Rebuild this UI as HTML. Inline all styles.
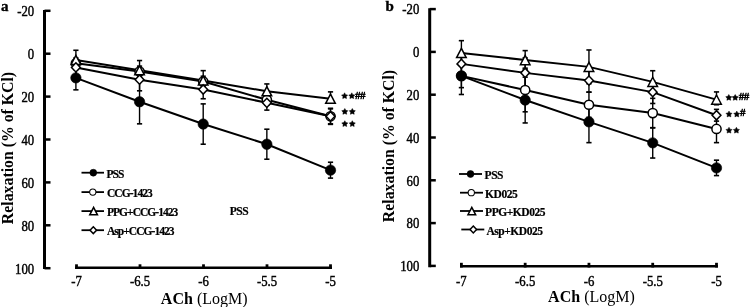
<!DOCTYPE html>
<html><head><meta charset="utf-8"><style>
html,body{margin:0;padding:0;background:#fff;}
body{width:750px;height:307px;overflow:hidden;}
svg{display:block;will-change:transform;}
text{font-family:"Liberation Serif",serif;fill:#000;}
.tl{font-size:15px;stroke:#000;stroke-width:0.45px;}
.lg{font-size:11.5px;font-weight:bold;letter-spacing:-0.5px;stroke:#000;stroke-width:0.2px;}
.hs{font-size:11px;stroke:#000;stroke-width:0.55px;letter-spacing:-0.6px;}
.pl{font-size:15px;font-weight:bold;stroke:#000;stroke-width:0.4px;}
.at{font-size:16px;}
.yl{font-size:15.8px;font-weight:bold;}
</style></head><body>
<svg width="750" height="307" viewBox="0 0 750 307">
<rect width="750" height="307" fill="#fff"/>
<line x1="44.5" y1="10.0" x2="44.5" y2="269.0" stroke="#000" stroke-width="3"/>
<line x1="44.5" y1="10.80" x2="50.5" y2="10.80" stroke="#000" stroke-width="2.5"/>
<text transform="translate(34.20,16.10) scale(0.85,1)" class="tl" text-anchor="end">-20</text>
<line x1="44.5" y1="53.70" x2="50.5" y2="53.70" stroke="#000" stroke-width="2.5"/>
<text transform="translate(34.20,59.00) scale(0.85,1)" class="tl" text-anchor="end">0</text>
<line x1="44.5" y1="96.60" x2="50.5" y2="96.60" stroke="#000" stroke-width="2.5"/>
<text transform="translate(34.20,101.90) scale(0.85,1)" class="tl" text-anchor="end">20</text>
<line x1="44.5" y1="139.50" x2="50.5" y2="139.50" stroke="#000" stroke-width="2.5"/>
<text transform="translate(34.20,144.80) scale(0.85,1)" class="tl" text-anchor="end">40</text>
<line x1="44.5" y1="182.40" x2="50.5" y2="182.40" stroke="#000" stroke-width="2.5"/>
<text transform="translate(34.20,187.70) scale(0.85,1)" class="tl" text-anchor="end">60</text>
<line x1="44.5" y1="225.30" x2="50.5" y2="225.30" stroke="#000" stroke-width="2.5"/>
<text transform="translate(34.20,230.60) scale(0.85,1)" class="tl" text-anchor="end">80</text>
<line x1="44.5" y1="268.20" x2="50.5" y2="268.20" stroke="#000" stroke-width="2.5"/>
<text transform="translate(34.20,273.50) scale(0.85,1)" class="tl" text-anchor="end">100</text>
<line x1="75.0" y1="267.7" x2="332.0" y2="267.7" stroke="#000" stroke-width="2.6"/>
<line x1="76.50" y1="264.3" x2="76.50" y2="269.0" stroke="#000" stroke-width="2.8"/>
<text transform="translate(76.50,286.00) scale(0.85,1)" class="tl" text-anchor="middle">-7</text>
<line x1="140.00" y1="264.3" x2="140.00" y2="269.0" stroke="#000" stroke-width="2.8"/>
<text transform="translate(140.00,286.00) scale(0.85,1)" class="tl" text-anchor="middle">-6.5</text>
<line x1="203.50" y1="264.3" x2="203.50" y2="269.0" stroke="#000" stroke-width="2.8"/>
<text transform="translate(203.50,286.00) scale(0.85,1)" class="tl" text-anchor="middle">-6</text>
<line x1="267.00" y1="264.3" x2="267.00" y2="269.0" stroke="#000" stroke-width="2.8"/>
<text transform="translate(267.00,286.00) scale(0.85,1)" class="tl" text-anchor="middle">-5.5</text>
<line x1="330.50" y1="264.3" x2="330.50" y2="269.0" stroke="#000" stroke-width="2.8"/>
<text transform="translate(330.50,286.00) scale(0.85,1)" class="tl" text-anchor="middle">-5</text>
<polyline points="75.90,77.83 139.55,101.75 203.20,124.06 266.85,144.22 330.50,170.17" fill="none" stroke="#000" stroke-width="2"/>
<polyline points="75.90,63.35 139.55,71.50 203.20,81.59 266.85,99.82 330.50,116.33" fill="none" stroke="#000" stroke-width="2"/>
<polyline points="75.90,59.92 139.55,70.22 203.20,80.51 266.85,91.24 330.50,98.75" fill="none" stroke="#000" stroke-width="2"/>
<polyline points="75.90,67.43 139.55,79.65 203.20,89.52 266.85,102.82 330.50,116.33" fill="none" stroke="#000" stroke-width="2"/>
<line x1="75.90" y1="65.82" x2="75.90" y2="89.84" stroke="#000" stroke-width="1.4"/>
<line x1="73.30" y1="65.82" x2="78.50" y2="65.82" stroke="#000" stroke-width="1.6"/>
<line x1="73.30" y1="89.84" x2="78.50" y2="89.84" stroke="#000" stroke-width="1.6"/>
<line x1="139.55" y1="79.65" x2="139.55" y2="123.84" stroke="#000" stroke-width="1.4"/>
<line x1="136.95" y1="79.65" x2="142.15" y2="79.65" stroke="#000" stroke-width="1.6"/>
<line x1="136.95" y1="123.84" x2="142.15" y2="123.84" stroke="#000" stroke-width="1.6"/>
<line x1="203.20" y1="103.89" x2="203.20" y2="144.22" stroke="#000" stroke-width="1.4"/>
<line x1="200.60" y1="103.89" x2="205.80" y2="103.89" stroke="#000" stroke-width="1.6"/>
<line x1="200.60" y1="144.22" x2="205.80" y2="144.22" stroke="#000" stroke-width="1.6"/>
<line x1="266.85" y1="129.20" x2="266.85" y2="159.23" stroke="#000" stroke-width="1.4"/>
<line x1="264.25" y1="129.20" x2="269.45" y2="129.20" stroke="#000" stroke-width="1.6"/>
<line x1="264.25" y1="159.23" x2="269.45" y2="159.23" stroke="#000" stroke-width="1.6"/>
<line x1="330.50" y1="162.24" x2="330.50" y2="178.11" stroke="#000" stroke-width="1.4"/>
<line x1="327.90" y1="162.24" x2="333.10" y2="162.24" stroke="#000" stroke-width="1.6"/>
<line x1="327.90" y1="178.11" x2="333.10" y2="178.11" stroke="#000" stroke-width="1.6"/>
<line x1="75.90" y1="57.99" x2="75.90" y2="68.72" stroke="#000" stroke-width="1.4"/>
<line x1="73.30" y1="57.99" x2="78.50" y2="57.99" stroke="#000" stroke-width="1.6"/>
<line x1="73.30" y1="68.72" x2="78.50" y2="68.72" stroke="#000" stroke-width="1.6"/>
<line x1="139.55" y1="66.14" x2="139.55" y2="76.87" stroke="#000" stroke-width="1.4"/>
<line x1="136.95" y1="66.14" x2="142.15" y2="66.14" stroke="#000" stroke-width="1.6"/>
<line x1="136.95" y1="76.87" x2="142.15" y2="76.87" stroke="#000" stroke-width="1.6"/>
<line x1="203.20" y1="76.22" x2="203.20" y2="86.95" stroke="#000" stroke-width="1.4"/>
<line x1="200.60" y1="76.22" x2="205.80" y2="76.22" stroke="#000" stroke-width="1.6"/>
<line x1="200.60" y1="86.95" x2="205.80" y2="86.95" stroke="#000" stroke-width="1.6"/>
<line x1="266.85" y1="94.46" x2="266.85" y2="105.18" stroke="#000" stroke-width="1.4"/>
<line x1="264.25" y1="94.46" x2="269.45" y2="94.46" stroke="#000" stroke-width="1.6"/>
<line x1="264.25" y1="105.18" x2="269.45" y2="105.18" stroke="#000" stroke-width="1.6"/>
<line x1="330.50" y1="108.83" x2="330.50" y2="123.84" stroke="#000" stroke-width="1.4"/>
<line x1="327.90" y1="108.83" x2="333.10" y2="108.83" stroke="#000" stroke-width="1.6"/>
<line x1="327.90" y1="123.84" x2="333.10" y2="123.84" stroke="#000" stroke-width="1.6"/>
<line x1="75.90" y1="50.27" x2="75.90" y2="69.57" stroke="#000" stroke-width="1.4"/>
<line x1="73.30" y1="50.27" x2="78.50" y2="50.27" stroke="#000" stroke-width="1.6"/>
<line x1="73.30" y1="69.57" x2="78.50" y2="69.57" stroke="#000" stroke-width="1.6"/>
<line x1="139.55" y1="60.56" x2="139.55" y2="79.87" stroke="#000" stroke-width="1.4"/>
<line x1="136.95" y1="60.56" x2="142.15" y2="60.56" stroke="#000" stroke-width="1.6"/>
<line x1="136.95" y1="79.87" x2="142.15" y2="79.87" stroke="#000" stroke-width="1.6"/>
<line x1="203.20" y1="70.65" x2="203.20" y2="90.38" stroke="#000" stroke-width="1.4"/>
<line x1="200.60" y1="70.65" x2="205.80" y2="70.65" stroke="#000" stroke-width="1.6"/>
<line x1="200.60" y1="90.38" x2="205.80" y2="90.38" stroke="#000" stroke-width="1.6"/>
<line x1="266.85" y1="83.94" x2="266.85" y2="98.53" stroke="#000" stroke-width="1.4"/>
<line x1="264.25" y1="83.94" x2="269.45" y2="83.94" stroke="#000" stroke-width="1.6"/>
<line x1="264.25" y1="98.53" x2="269.45" y2="98.53" stroke="#000" stroke-width="1.6"/>
<line x1="330.50" y1="91.88" x2="330.50" y2="101.96" stroke="#000" stroke-width="1.4"/>
<line x1="327.90" y1="91.88" x2="333.10" y2="91.88" stroke="#000" stroke-width="1.6"/>
<line x1="327.90" y1="101.96" x2="333.10" y2="101.96" stroke="#000" stroke-width="1.6"/>
<line x1="75.90" y1="59.92" x2="75.90" y2="74.94" stroke="#000" stroke-width="1.4"/>
<line x1="73.30" y1="59.92" x2="78.50" y2="59.92" stroke="#000" stroke-width="1.6"/>
<line x1="73.30" y1="74.94" x2="78.50" y2="74.94" stroke="#000" stroke-width="1.6"/>
<line x1="139.55" y1="68.50" x2="139.55" y2="90.81" stroke="#000" stroke-width="1.4"/>
<line x1="136.95" y1="68.50" x2="142.15" y2="68.50" stroke="#000" stroke-width="1.6"/>
<line x1="136.95" y1="90.81" x2="142.15" y2="90.81" stroke="#000" stroke-width="1.6"/>
<line x1="203.20" y1="80.30" x2="203.20" y2="98.75" stroke="#000" stroke-width="1.4"/>
<line x1="200.60" y1="80.30" x2="205.80" y2="80.30" stroke="#000" stroke-width="1.6"/>
<line x1="200.60" y1="98.75" x2="205.80" y2="98.75" stroke="#000" stroke-width="1.6"/>
<line x1="266.85" y1="95.53" x2="266.85" y2="110.11" stroke="#000" stroke-width="1.4"/>
<line x1="264.25" y1="95.53" x2="269.45" y2="95.53" stroke="#000" stroke-width="1.6"/>
<line x1="264.25" y1="110.11" x2="269.45" y2="110.11" stroke="#000" stroke-width="1.6"/>
<line x1="330.50" y1="108.29" x2="330.50" y2="124.38" stroke="#000" stroke-width="1.4"/>
<line x1="327.90" y1="108.29" x2="333.10" y2="108.29" stroke="#000" stroke-width="1.6"/>
<line x1="327.90" y1="124.38" x2="333.10" y2="124.38" stroke="#000" stroke-width="1.6"/>
<circle cx="75.90" cy="63.35" r="4.60" fill="#fff" stroke="#000" stroke-width="1.50"/>
<circle cx="139.55" cy="71.50" r="4.60" fill="#fff" stroke="#000" stroke-width="1.50"/>
<circle cx="203.20" cy="81.59" r="4.60" fill="#fff" stroke="#000" stroke-width="1.50"/>
<circle cx="266.85" cy="99.82" r="4.60" fill="#fff" stroke="#000" stroke-width="1.50"/>
<circle cx="330.50" cy="116.33" r="4.60" fill="#fff" stroke="#000" stroke-width="1.50"/>
<circle cx="75.90" cy="77.83" r="5.20" fill="#000" stroke="#000" stroke-width="0.6"/>
<circle cx="139.55" cy="101.75" r="5.20" fill="#000" stroke="#000" stroke-width="0.6"/>
<circle cx="203.20" cy="124.06" r="5.20" fill="#000" stroke="#000" stroke-width="0.6"/>
<circle cx="266.85" cy="144.22" r="5.20" fill="#000" stroke="#000" stroke-width="0.6"/>
<circle cx="330.50" cy="170.17" r="5.20" fill="#000" stroke="#000" stroke-width="0.6"/>
<polygon points="75.90,55.32 80.70,64.52 71.10,64.52" fill="#fff" stroke="#000" stroke-width="1.5" stroke-linejoin="miter"/>
<polygon points="139.55,65.62 144.35,74.82 134.75,74.82" fill="#fff" stroke="#000" stroke-width="1.5" stroke-linejoin="miter"/>
<polygon points="203.20,75.91 208.00,85.11 198.40,85.11" fill="#fff" stroke="#000" stroke-width="1.5" stroke-linejoin="miter"/>
<polygon points="266.85,86.64 271.65,95.84 262.05,95.84" fill="#fff" stroke="#000" stroke-width="1.5" stroke-linejoin="miter"/>
<polygon points="330.50,94.15 335.30,103.34 325.70,103.34" fill="#fff" stroke="#000" stroke-width="1.5" stroke-linejoin="miter"/>
<polygon points="75.90,62.83 80.30,67.43 75.90,72.03 71.50,67.43" fill="#fff" stroke="#000" stroke-width="1.5"/>
<polygon points="139.55,75.05 143.95,79.65 139.55,84.25 135.15,79.65" fill="#fff" stroke="#000" stroke-width="1.5"/>
<polygon points="203.20,84.92 207.60,89.52 203.20,94.12 198.80,89.52" fill="#fff" stroke="#000" stroke-width="1.5"/>
<polygon points="266.85,98.22 271.25,102.82 266.85,107.42 262.45,102.82" fill="#fff" stroke="#000" stroke-width="1.5"/>
<polygon points="330.50,111.73 334.90,116.33 330.50,120.93 326.10,116.33" fill="#fff" stroke="#000" stroke-width="1.5"/>
<line x1="81.5" y1="172.7" x2="104" y2="172.7" stroke="#000" stroke-width="1.8"/>
<circle cx="93.30" cy="172.70" r="3.43" fill="#000" stroke="#000" stroke-width="0.6"/>
<text x="106.5" y="177.70" class="lg" style="letter-spacing:-0.95px">PSS</text>
<line x1="81.5" y1="192.1" x2="104" y2="192.1" stroke="#000" stroke-width="1.8"/>
<circle cx="92.80" cy="192.10" r="3.13" fill="#fff" stroke="#000" stroke-width="1.02"/>
<text x="107.0" y="197.10" class="lg" style="letter-spacing:-0.95px">CCG-1423</text>
<line x1="81.5" y1="211.1" x2="104" y2="211.1" stroke="#000" stroke-width="1.8"/>
<polygon points="93.60,207.42 97.44,214.78 89.76,214.78" fill="#fff" stroke="#000" stroke-width="1.5" stroke-linejoin="miter"/>
<text x="106.9" y="216.10" class="lg" style="letter-spacing:-0.95px">PPG+CCG-1423</text>
<line x1="81.5" y1="230.2" x2="104" y2="230.2" stroke="#000" stroke-width="1.8"/>
<polygon points="93.30,226.80 96.56,230.20 93.30,233.60 90.04,230.20" fill="#fff" stroke="#000" stroke-width="1.5"/>
<text x="106.9" y="235.20" class="lg" style="letter-spacing:-0.95px">Asp+CCG-1423</text>
<polygon points="344.60,92.81 345.60,94.63 347.64,95.02 346.22,96.53 346.48,98.59 344.60,97.71 342.72,98.59 342.98,96.53 341.56,95.02 343.60,94.63" fill="#000" stroke="#000" stroke-width="0.5" stroke-linejoin="round"/>
<polygon points="351.80,92.81 352.80,94.63 354.84,95.02 353.42,96.53 353.68,98.59 351.80,97.71 349.92,98.59 350.18,96.53 348.76,95.02 350.80,94.63" fill="#000" stroke="#000" stroke-width="0.5" stroke-linejoin="round"/>
<text x="355.0" y="98.5" class="hs">##</text>
<polygon points="344.80,108.51 345.80,110.33 347.84,110.72 346.42,112.23 346.68,114.29 344.80,113.41 342.92,114.29 343.18,112.23 341.76,110.72 343.80,110.33" fill="#000" stroke="#000" stroke-width="0.5" stroke-linejoin="round"/>
<polygon points="352.30,108.51 353.30,110.33 355.34,110.72 353.92,112.23 354.18,114.29 352.30,113.41 350.42,114.29 350.68,112.23 349.26,110.72 351.30,110.33" fill="#000" stroke="#000" stroke-width="0.5" stroke-linejoin="round"/>
<polygon points="344.80,120.71 345.80,122.53 347.84,122.92 346.42,124.43 346.68,126.49 344.80,125.61 342.92,126.49 343.18,124.43 341.76,122.92 343.80,122.53" fill="#000" stroke="#000" stroke-width="0.5" stroke-linejoin="round"/>
<polygon points="352.30,120.71 353.30,122.53 355.34,122.92 353.92,124.43 354.18,126.49 352.30,125.61 350.42,126.49 350.68,124.43 349.26,122.92 351.30,122.53" fill="#000" stroke="#000" stroke-width="0.5" stroke-linejoin="round"/>
<text x="1" y="11" class="pl">a</text>
<text x="204.20" y="303.90" class="at" text-anchor="middle"><tspan font-weight="bold">ACh</tspan> (LogM)</text>
<text transform="translate(12.50,148) rotate(-90)" class="at yl" text-anchor="middle">Relaxation (% of KCl)</text>
<text x="229.8" y="215" class="lg">PSS</text>
<line x1="429.7" y1="8.2" x2="429.7" y2="267.3" stroke="#000" stroke-width="3"/>
<line x1="429.7" y1="9.10" x2="435.8" y2="9.10" stroke="#000" stroke-width="2.5"/>
<text transform="translate(419.30,14.40) scale(0.85,1)" class="tl" text-anchor="end">-20</text>
<line x1="429.7" y1="51.90" x2="435.8" y2="51.90" stroke="#000" stroke-width="2.5"/>
<text transform="translate(419.30,57.20) scale(0.85,1)" class="tl" text-anchor="end">0</text>
<line x1="429.7" y1="94.70" x2="435.8" y2="94.70" stroke="#000" stroke-width="2.5"/>
<text transform="translate(419.30,100.00) scale(0.85,1)" class="tl" text-anchor="end">20</text>
<line x1="429.7" y1="137.50" x2="435.8" y2="137.50" stroke="#000" stroke-width="2.5"/>
<text transform="translate(419.30,142.80) scale(0.85,1)" class="tl" text-anchor="end">40</text>
<line x1="429.7" y1="180.30" x2="435.8" y2="180.30" stroke="#000" stroke-width="2.5"/>
<text transform="translate(419.30,185.60) scale(0.85,1)" class="tl" text-anchor="end">60</text>
<line x1="429.7" y1="223.10" x2="435.8" y2="223.10" stroke="#000" stroke-width="2.5"/>
<text transform="translate(419.30,228.40) scale(0.85,1)" class="tl" text-anchor="end">80</text>
<line x1="429.7" y1="265.90" x2="435.8" y2="265.90" stroke="#000" stroke-width="2.5"/>
<text transform="translate(419.30,271.20) scale(0.85,1)" class="tl" text-anchor="end">100</text>
<line x1="460.0" y1="266.2" x2="718.0" y2="266.2" stroke="#000" stroke-width="2.6"/>
<line x1="461.40" y1="262.8" x2="461.40" y2="267.5" stroke="#000" stroke-width="2.8"/>
<text transform="translate(461.40,285.80) scale(0.85,1)" class="tl" text-anchor="middle">-7</text>
<line x1="525.17" y1="262.8" x2="525.17" y2="267.5" stroke="#000" stroke-width="2.8"/>
<text transform="translate(525.17,285.80) scale(0.85,1)" class="tl" text-anchor="middle">-6.5</text>
<line x1="588.95" y1="262.8" x2="588.95" y2="267.5" stroke="#000" stroke-width="2.8"/>
<text transform="translate(588.95,285.80) scale(0.85,1)" class="tl" text-anchor="middle">-6</text>
<line x1="652.72" y1="262.8" x2="652.72" y2="267.5" stroke="#000" stroke-width="2.8"/>
<text transform="translate(652.72,285.80) scale(0.85,1)" class="tl" text-anchor="middle">-5.5</text>
<line x1="716.50" y1="262.8" x2="716.50" y2="267.5" stroke="#000" stroke-width="2.8"/>
<text transform="translate(716.50,285.80) scale(0.85,1)" class="tl" text-anchor="middle">-5</text>
<polyline points="461.40,75.87 525.17,100.05 588.95,121.88 652.72,142.85 716.50,167.89" fill="none" stroke="#000" stroke-width="2"/>
<polyline points="461.40,75.87 525.17,89.99 588.95,104.76 652.72,113.10 716.50,128.94" fill="none" stroke="#000" stroke-width="2"/>
<polyline points="461.40,52.97 525.17,60.03 588.95,66.88 652.72,81.86 716.50,99.62" fill="none" stroke="#000" stroke-width="2"/>
<polyline points="461.40,63.88 525.17,72.87 588.95,80.58 652.72,92.13 716.50,115.24" fill="none" stroke="#000" stroke-width="2"/>
<line x1="461.40" y1="57.25" x2="461.40" y2="94.49" stroke="#000" stroke-width="1.4"/>
<line x1="458.80" y1="57.25" x2="464.00" y2="57.25" stroke="#000" stroke-width="1.6"/>
<line x1="458.80" y1="94.49" x2="464.00" y2="94.49" stroke="#000" stroke-width="1.6"/>
<line x1="525.17" y1="77.15" x2="525.17" y2="122.95" stroke="#000" stroke-width="1.4"/>
<line x1="522.57" y1="77.15" x2="527.77" y2="77.15" stroke="#000" stroke-width="1.6"/>
<line x1="522.57" y1="122.95" x2="527.77" y2="122.95" stroke="#000" stroke-width="1.6"/>
<line x1="588.95" y1="101.12" x2="588.95" y2="142.64" stroke="#000" stroke-width="1.4"/>
<line x1="586.35" y1="101.12" x2="591.55" y2="101.12" stroke="#000" stroke-width="1.6"/>
<line x1="586.35" y1="142.64" x2="591.55" y2="142.64" stroke="#000" stroke-width="1.6"/>
<line x1="652.72" y1="127.66" x2="652.72" y2="158.04" stroke="#000" stroke-width="1.4"/>
<line x1="650.12" y1="127.66" x2="655.32" y2="127.66" stroke="#000" stroke-width="1.6"/>
<line x1="650.12" y1="158.04" x2="655.32" y2="158.04" stroke="#000" stroke-width="1.6"/>
<line x1="716.50" y1="160.18" x2="716.50" y2="175.59" stroke="#000" stroke-width="1.4"/>
<line x1="713.90" y1="160.18" x2="719.10" y2="160.18" stroke="#000" stroke-width="1.6"/>
<line x1="713.90" y1="175.59" x2="719.10" y2="175.59" stroke="#000" stroke-width="1.6"/>
<line x1="461.40" y1="64.10" x2="461.40" y2="87.64" stroke="#000" stroke-width="1.4"/>
<line x1="458.80" y1="64.10" x2="464.00" y2="64.10" stroke="#000" stroke-width="1.6"/>
<line x1="458.80" y1="87.64" x2="464.00" y2="87.64" stroke="#000" stroke-width="1.6"/>
<line x1="525.17" y1="68.16" x2="525.17" y2="111.82" stroke="#000" stroke-width="1.4"/>
<line x1="522.57" y1="68.16" x2="527.77" y2="68.16" stroke="#000" stroke-width="1.6"/>
<line x1="522.57" y1="111.82" x2="527.77" y2="111.82" stroke="#000" stroke-width="1.6"/>
<line x1="588.95" y1="92.13" x2="588.95" y2="117.38" stroke="#000" stroke-width="1.4"/>
<line x1="586.35" y1="92.13" x2="591.55" y2="92.13" stroke="#000" stroke-width="1.6"/>
<line x1="586.35" y1="117.38" x2="591.55" y2="117.38" stroke="#000" stroke-width="1.6"/>
<line x1="652.72" y1="98.34" x2="652.72" y2="127.87" stroke="#000" stroke-width="1.4"/>
<line x1="650.12" y1="98.34" x2="655.32" y2="98.34" stroke="#000" stroke-width="1.6"/>
<line x1="650.12" y1="127.87" x2="655.32" y2="127.87" stroke="#000" stroke-width="1.6"/>
<line x1="716.50" y1="115.24" x2="716.50" y2="142.64" stroke="#000" stroke-width="1.4"/>
<line x1="713.90" y1="115.24" x2="719.10" y2="115.24" stroke="#000" stroke-width="1.6"/>
<line x1="713.90" y1="142.64" x2="719.10" y2="142.64" stroke="#000" stroke-width="1.6"/>
<line x1="461.40" y1="40.66" x2="461.40" y2="65.28" stroke="#000" stroke-width="1.4"/>
<line x1="458.80" y1="40.66" x2="464.00" y2="40.66" stroke="#000" stroke-width="1.6"/>
<line x1="458.80" y1="65.28" x2="464.00" y2="65.28" stroke="#000" stroke-width="1.6"/>
<line x1="525.17" y1="50.62" x2="525.17" y2="69.45" stroke="#000" stroke-width="1.4"/>
<line x1="522.57" y1="50.62" x2="527.77" y2="50.62" stroke="#000" stroke-width="1.6"/>
<line x1="522.57" y1="69.45" x2="527.77" y2="69.45" stroke="#000" stroke-width="1.6"/>
<line x1="588.95" y1="49.97" x2="588.95" y2="83.79" stroke="#000" stroke-width="1.4"/>
<line x1="586.35" y1="49.97" x2="591.55" y2="49.97" stroke="#000" stroke-width="1.6"/>
<line x1="586.35" y1="83.79" x2="591.55" y2="83.79" stroke="#000" stroke-width="1.6"/>
<line x1="652.72" y1="70.73" x2="652.72" y2="92.99" stroke="#000" stroke-width="1.4"/>
<line x1="650.12" y1="70.73" x2="655.32" y2="70.73" stroke="#000" stroke-width="1.6"/>
<line x1="650.12" y1="92.99" x2="655.32" y2="92.99" stroke="#000" stroke-width="1.6"/>
<line x1="716.50" y1="91.92" x2="716.50" y2="104.76" stroke="#000" stroke-width="1.4"/>
<line x1="713.90" y1="91.92" x2="719.10" y2="91.92" stroke="#000" stroke-width="1.6"/>
<line x1="713.90" y1="104.76" x2="719.10" y2="104.76" stroke="#000" stroke-width="1.6"/>
<line x1="461.40" y1="55.32" x2="461.40" y2="72.44" stroke="#000" stroke-width="1.4"/>
<line x1="458.80" y1="55.32" x2="464.00" y2="55.32" stroke="#000" stroke-width="1.6"/>
<line x1="458.80" y1="72.44" x2="464.00" y2="72.44" stroke="#000" stroke-width="1.6"/>
<line x1="525.17" y1="57.89" x2="525.17" y2="87.85" stroke="#000" stroke-width="1.4"/>
<line x1="522.57" y1="57.89" x2="527.77" y2="57.89" stroke="#000" stroke-width="1.6"/>
<line x1="522.57" y1="87.85" x2="527.77" y2="87.85" stroke="#000" stroke-width="1.6"/>
<line x1="588.95" y1="69.02" x2="588.95" y2="92.13" stroke="#000" stroke-width="1.4"/>
<line x1="586.35" y1="69.02" x2="591.55" y2="69.02" stroke="#000" stroke-width="1.6"/>
<line x1="586.35" y1="92.13" x2="591.55" y2="92.13" stroke="#000" stroke-width="1.6"/>
<line x1="652.72" y1="80.79" x2="652.72" y2="103.47" stroke="#000" stroke-width="1.4"/>
<line x1="650.12" y1="80.79" x2="655.32" y2="80.79" stroke="#000" stroke-width="1.6"/>
<line x1="650.12" y1="103.47" x2="655.32" y2="103.47" stroke="#000" stroke-width="1.6"/>
<line x1="716.50" y1="109.36" x2="716.50" y2="121.13" stroke="#000" stroke-width="1.4"/>
<line x1="713.90" y1="109.36" x2="719.10" y2="109.36" stroke="#000" stroke-width="1.6"/>
<line x1="713.90" y1="121.13" x2="719.10" y2="121.13" stroke="#000" stroke-width="1.6"/>
<circle cx="461.40" cy="75.87" r="4.60" fill="#fff" stroke="#000" stroke-width="1.50"/>
<circle cx="525.17" cy="89.99" r="4.60" fill="#fff" stroke="#000" stroke-width="1.50"/>
<circle cx="588.95" cy="104.76" r="4.60" fill="#fff" stroke="#000" stroke-width="1.50"/>
<circle cx="652.72" cy="113.10" r="4.60" fill="#fff" stroke="#000" stroke-width="1.50"/>
<circle cx="716.50" cy="128.94" r="4.60" fill="#fff" stroke="#000" stroke-width="1.50"/>
<circle cx="461.40" cy="75.87" r="5.20" fill="#000" stroke="#000" stroke-width="0.6"/>
<circle cx="525.17" cy="100.05" r="5.20" fill="#000" stroke="#000" stroke-width="0.6"/>
<circle cx="588.95" cy="121.88" r="5.20" fill="#000" stroke="#000" stroke-width="0.6"/>
<circle cx="652.72" cy="142.85" r="5.20" fill="#000" stroke="#000" stroke-width="0.6"/>
<circle cx="716.50" cy="167.89" r="5.20" fill="#000" stroke="#000" stroke-width="0.6"/>
<polygon points="461.40,48.37 466.20,57.57 456.60,57.57" fill="#fff" stroke="#000" stroke-width="1.5" stroke-linejoin="miter"/>
<polygon points="525.17,55.43 529.97,64.63 520.38,64.63" fill="#fff" stroke="#000" stroke-width="1.5" stroke-linejoin="miter"/>
<polygon points="588.95,62.28 593.75,71.48 584.15,71.48" fill="#fff" stroke="#000" stroke-width="1.5" stroke-linejoin="miter"/>
<polygon points="652.72,77.26 657.52,86.46 647.92,86.46" fill="#fff" stroke="#000" stroke-width="1.5" stroke-linejoin="miter"/>
<polygon points="716.50,95.02 721.30,104.22 711.70,104.22" fill="#fff" stroke="#000" stroke-width="1.5" stroke-linejoin="miter"/>
<polygon points="461.40,59.28 465.80,63.88 461.40,68.48 457.00,63.88" fill="#fff" stroke="#000" stroke-width="1.5"/>
<polygon points="525.17,68.27 529.57,72.87 525.17,77.47 520.77,72.87" fill="#fff" stroke="#000" stroke-width="1.5"/>
<polygon points="588.95,75.98 593.35,80.58 588.95,85.18 584.55,80.58" fill="#fff" stroke="#000" stroke-width="1.5"/>
<polygon points="652.72,87.53 657.12,92.13 652.72,96.73 648.32,92.13" fill="#fff" stroke="#000" stroke-width="1.5"/>
<polygon points="716.50,110.64 720.90,115.24 716.50,119.84 712.10,115.24" fill="#fff" stroke="#000" stroke-width="1.5"/>
<line x1="459" y1="174.0" x2="482" y2="174.0" stroke="#000" stroke-width="1.8"/>
<circle cx="470.50" cy="174.00" r="3.43" fill="#000" stroke="#000" stroke-width="0.6"/>
<text x="484.6" y="179.00" class="lg" style="letter-spacing:-0.45px">PSS</text>
<line x1="460" y1="192.7" x2="483" y2="192.7" stroke="#000" stroke-width="1.8"/>
<circle cx="471.30" cy="192.70" r="3.13" fill="#fff" stroke="#000" stroke-width="1.02"/>
<text x="485.1" y="197.70" class="lg" style="letter-spacing:-0.45px">KD025</text>
<line x1="460" y1="211.0" x2="483" y2="211.0" stroke="#000" stroke-width="1.8"/>
<polygon points="471.80,207.32 475.64,214.68 467.96,214.68" fill="#fff" stroke="#000" stroke-width="1.5" stroke-linejoin="miter"/>
<text x="485.1" y="216.00" class="lg" style="letter-spacing:-0.45px">PPG+KD025</text>
<line x1="461.3" y1="229.5" x2="484.3" y2="229.5" stroke="#000" stroke-width="1.8"/>
<polygon points="473.30,226.10 476.56,229.50 473.30,232.90 470.04,229.50" fill="#fff" stroke="#000" stroke-width="1.5"/>
<text x="486.40000000000003" y="234.50" class="lg" style="letter-spacing:-0.45px">Asp+KD025</text>
<polygon points="728.80,94.51 729.80,96.33 731.84,96.72 730.42,98.23 730.68,100.29 728.80,99.41 726.92,100.29 727.18,98.23 725.76,96.72 727.80,96.33" fill="#000" stroke="#000" stroke-width="0.5" stroke-linejoin="round"/>
<polygon points="735.20,94.51 736.20,96.33 738.24,96.72 736.82,98.23 737.08,100.29 735.20,99.41 733.32,100.29 733.58,98.23 732.16,96.72 734.20,96.33" fill="#000" stroke="#000" stroke-width="0.5" stroke-linejoin="round"/>
<text x="738.8" y="100.0" class="hs">##</text>
<polygon points="729.00,111.11 730.00,112.93 732.04,113.32 730.62,114.83 730.88,116.89 729.00,116.01 727.12,116.89 727.38,114.83 725.96,113.32 728.00,112.93" fill="#000" stroke="#000" stroke-width="0.5" stroke-linejoin="round"/>
<polygon points="736.80,111.11 737.80,112.93 739.84,113.32 738.42,114.83 738.68,116.89 736.80,116.01 734.92,116.89 735.18,114.83 733.76,113.32 735.80,112.93" fill="#000" stroke="#000" stroke-width="0.5" stroke-linejoin="round"/>
<text x="740.0" y="116.4" class="hs">#</text>
<polygon points="729.00,127.31 730.00,129.13 732.04,129.52 730.62,131.03 730.88,133.09 729.00,132.21 727.12,133.09 727.38,131.03 725.96,129.52 728.00,129.13" fill="#000" stroke="#000" stroke-width="0.5" stroke-linejoin="round"/>
<polygon points="736.40,127.31 737.40,129.13 739.44,129.52 738.02,131.03 738.28,133.09 736.40,132.21 734.52,133.09 734.78,131.03 733.36,129.52 735.40,129.13" fill="#000" stroke="#000" stroke-width="0.5" stroke-linejoin="round"/>
<text x="385.5" y="11" class="pl">b</text>
<text x="591.45" y="302.20" class="at" text-anchor="middle"><tspan font-weight="bold">ACh</tspan> (LogM)</text>
<text transform="translate(394.20,146) rotate(-90)" class="at yl" text-anchor="middle">Relaxation (% of KCl)</text>
</svg>
</body></html>
